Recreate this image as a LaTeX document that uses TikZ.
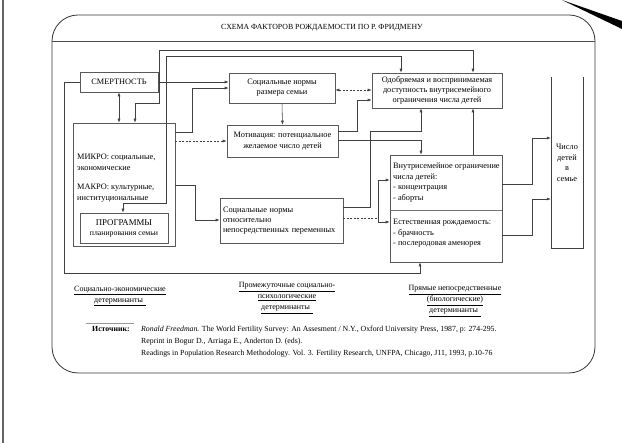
\documentclass[tikz,border=0pt]{standalone}
\usepackage{fontspec}
\setmainfont{Liberation Serif}
\usetikzlibrary{arrows.meta}
\begin{document}
\begin{tikzpicture}[x=1pt,y=-1pt,
  ln/.style={draw=black!75, line width=0.55pt},
  arr/.style={ln, -{Latex[length=4pt,width=3pt]}},
  darr/.style={ln, {Latex[length=4pt,width=3pt]}-{Latex[length=4pt,width=3pt]}},
  dsh/.style={dash pattern=on 2pt off 1.5pt},
  box/.style={draw=black!65, line width=0.55pt, inner sep=2pt, align=center, font=\fontsize{8.3}{10.2}\selectfont},
  txt/.style={inner sep=0pt, align=left, font=\fontsize{8.3}{10.5}\selectfont},
  lab/.style={inner sep=0pt, align=center, font=\fontsize{8}{11}\selectfont},
  src/.style={inner sep=0pt, anchor=base west, font=\fontsize{7.8}{9}\selectfont},
]
\useasboundingbox (0,0) rectangle (622,443);
% scan artefacts
\draw[black!60, line width=1.1pt] (3,0) -- (3,443);
\fill[black] (562,0) -- (622,21) -- (622,29) -- cycle;
% frame
\draw[black!80, line width=0.8pt, rounded corners=26pt] (52,15) rectangle (595,373);
\draw[black!70, line width=0.7pt] (52,41) -- (595,41);
\node[inner sep=0pt, font=\fontsize{7.8}{9}\selectfont] (title) at (322,28) {СХЕМА ФАКТОРОВ РОЖДАЕМОСТИ ПО Р. ФРИДМЕНУ};

% boxes
\node[box, minimum width=78pt, minimum height=20pt] (smert) at (119,82) {СМЕРТНОСТЬ};
\node[box, minimum width=102pt, minimum height=123pt] (big) at (124,184.5) {};
\node[txt, anchor=north west] (micro) at (77,154) {МИКРО: социальные,\\экономические};
\node[txt, anchor=north west] (macro) at (77,184) {МАКРО: культурные,\\институциональные};
\node[box, minimum width=88pt, minimum height=30pt, font=\fontsize{7.8}{10}\selectfont] (prog) at (124,228) {{\fontsize{8.8}{10}\selectfont ПРОГРАММЫ}\\планирования семьи};
\node[box, minimum width=106pt, minimum height=30pt] (norms) at (282,88) {Социальные нормы\\размера семьи};
\node[box, minimum width=111pt, minimum height=32pt] (motiv) at (282.5,141) {Мотивация: потенциальное\\желаемое число детей};
\node[box, minimum height=45pt, text width=117pt, inner xsep=3pt, align=left] (direct) at (281.5,220.5) {Социальные нормы\\относительно\\непосредственных переменных};
\node[box, minimum width=130pt, minimum height=35pt] (approved) at (437,90.5) {Одобряемая и воспринимаемая\\доступность внутрисемейного\\ограничения числа детей};
\node[box, minimum width=112pt, minimum height=107pt] (intra) at (446,208.5) {};
\node[txt, anchor=north west] (intratext) at (393,163) {Внутрисемейное ограничение\\числа детей:\\- концентрация\\- аборты};
\node[txt, anchor=north west] (nat) at (393,219) {Естественная рождаемость:\\- брачность\\- послеродовая аменорея};
\draw[black!55, line width=0.5pt] (intra.west |- 0,210) -- (intra.east |- 0,210);
\node[minimum width=32pt, minimum height=171pt, inner sep=0pt] (num) at (567,162.5) {};
\node[txt, align=center] (numtext) at (567,163) {Число\\детей\\в\\семье};
\draw[ln] (num.north west) -- (num.south west) -- (num.south east) -- (num.north east);

% connectors
\draw[darr] (smert.south) -- (smert.south |- big.north);
\draw[arr] (smert.east) -- (norms.west |- smert.east);
\draw[arr] (smert.west) -| (64,273) -| (intra.south -| 420,0);
\draw[darr] (big.north -| 135,0) -- (135,103) -| (159,50) -| (approved.north -| 473,0);
\draw[darr] (prog.north -| 123,0) -- (123,203) -| (166,56) -| (approved.north -| 401,0);
\draw[arr] (big.east |- 0,132) -| (192,88) -- (norms.west |- 0,88);
\draw[arr, dsh] (big.east |- motiv.west) -- (motiv.west);
\draw[arr] (big.east |- 0,185) -| (195,220) -- (direct.west |- 0,220);
\draw[arr] (norms.south) -- (motiv.north);
\draw[darr, dsh] (norms.east |- 0,90) -- (approved.west |- 0,90);
\draw[arr] (motiv.east |- 0,131) -| (357,100) -- (approved.west |- 0,100);
\draw[arr] (motiv.east |- 0,140) -| (intra.north -| 421,0);
\draw[arr] (direct.east |- 0,207) -| (370,131) -| (approved.south -| 421,0);
\draw[ln, dsh] (direct.east |- 0,218) -- (378,218);
\draw[arr] (378,218) |- (intra.west |- 0,180);
\draw[arr] (378,218) |- (intra.west |- 0,222);
\draw[arr] (intra.north -| 473,0) -- (approved.south -| 473,0);
\draw[arr] (intra.east |- 0,184) -| (532,138) -- (num.west |- 0,138);
\draw[arr] (intra.east |- 0,235) -| (532,199) -- (num.west |- 0,199);

% bottom labels
\node[lab] (l1) at (120,296) {\underline{Социально-экономические}\\\underline{детерминанты\,\,}};
\node[lab] (l2) at (287,298) {\underline{Промежуточные социально-}\\\underline{психологические}\\\underline{детерминанты\,\,}};
\node[lab] (l3) at (455,301) {\underline{Прямые непосредственные}\\\underline{(биологические)}\\\underline{детерминанты\,\,}};

% source
\draw[black!40, line width=0.6pt] (86,323) -- (134,323);
\node[src, font=\fontsize{7.8}{9}\selectfont\bfseries] (srclab) at (92,332) {Источник:};
\node[src] (s1) at (141,332) {\textit{Ronald Freedman.} The World Fertility Survey: An Assesment / N.Y., Oxford University Press, 1987, p: 274-295.};
\node[src] (s2) at (141,344) {Reprint in Bogur D., Arriaga E., Anderton D. (eds).};
\node[src] (s3) at (141,356) {Readings in Population Research Methodology. Vol. 3. Fertility Research, UNFPA, Chicago, J11, 1993, p.10-76};
\end{tikzpicture}
\end{document}
